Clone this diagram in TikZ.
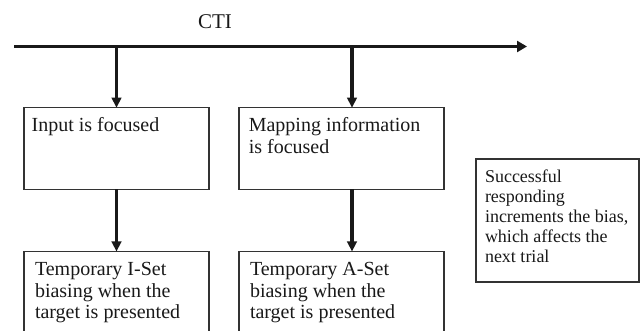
\documentclass[tikz,border=0pt]{standalone}
\usepackage{fontspec}
\setmainfont{Liberation Serif}
\usetikzlibrary{arrows.meta}

\begin{document}
\begin{tikzpicture}[x=1pt, y=-1pt,
  box/.style={draw=black!80, line width=1.2pt, inner sep=0pt, outer sep=0pt, anchor=north west},
  txt/.style={inner sep=0pt, outer sep=0pt, anchor=north west, align=left, text=black!90,
              font=\fontsize{20}{21.5}\selectfont},
  smalltxt/.style={txt, font=\fontsize{18}{20.2}\selectfont},
  arr/.style={line width=3.6pt, black!90, -{Triangle[length=10pt,width=9.5pt]}},
  tline/.style={line width=3.8pt, black!90, -{Triangle[length=10pt,width=11pt]}}]
  \useasboundingbox (0,0) rectangle (641,331);
  \clip (0,0) rectangle (641,331);

  % time line
  \coordinate (tl0) at (14,46.5);
  \coordinate (tl1) at (527,46.5);
  \coordinate (t1) at (116.5,46.5);
  \coordinate (t2) at (352,46.5);
  \node[anchor=base, inner sep=0pt, text=black!90, font=\fontsize{21}{24}\selectfont] (cti) at (215,28.5) {CTI};
  \draw[tline] (tl0) -- (tl1);

  % upper boxes
  \node[box, minimum width=185pt, minimum height=81.5pt] (b1) at (24,107.7) {};
  \node[box, minimum width=205pt, minimum height=81.5pt] (b2) at (239,107.7) {};
  \node[txt] (b1t) at ([shift={(7.6,8.9)}]b1.north west) {\strut Input is focused};
  \node[txt] (b2t) at ([shift={(9.8,8.9)}]b2.north west) {\strut Mapping information\\is focused};

  % lower boxes, running past the lower edge
  \node[box, minimum width=185pt, minimum height=110pt] (c1) at (24,251.5) {};
  \node[box, minimum width=205pt, minimum height=110pt] (c2) at (239,251.5) {};
  \node[txt] (c1t) at ([shift={(11,9.4)}]c1.north west) {\strut Temporary I-Set\\biasing when the\\target is presented};
  \node[txt] (c2t) at ([shift={(11,9.4)}]c2.north west) {\strut Temporary A-Set\\biasing when the\\target is presented};

  % side note
  \node[box, minimum width=163pt, minimum height=123pt] (s) at (476,159) {};
  \node[smalltxt] (st) at ([shift={(9,8.9)}]s.north west) {\strut Successful\\responding\\increments the bias,\\which affects the\\next trial};

  % arrows
  \draw[arr] (t1) -- (t1 |- b1.north);
  \draw[arr] (t2) -- (t2 |- b2.north);
  \draw[arr] (b1.south -| t1) -- (c1.north -| t1);
  \draw[arr] (b2.south -| t2) -- (c2.north -| t2);
\end{tikzpicture}
\end{document}
